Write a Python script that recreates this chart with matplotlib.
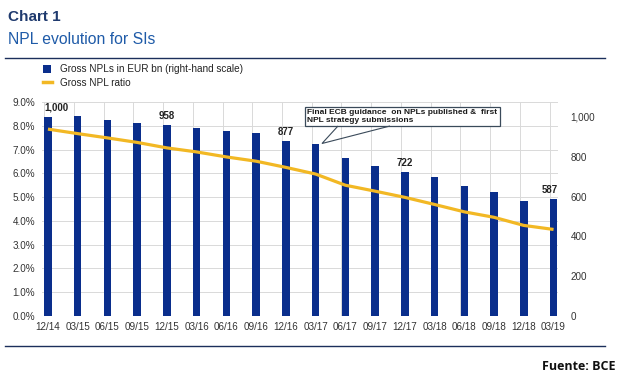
import matplotlib
matplotlib.use("Agg")
import matplotlib.pyplot as plt
from matplotlib.ticker import FuncFormatter, MultipleLocator
from matplotlib.lines import Line2D
from matplotlib.patches import Rectangle, Polygon

plt.rcParams['font.family'] = ['Liberation Sans', 'DejaVu Sans']

quarters = ["12/14", "03/15", "06/15", "09/15", "12/15", "03/16", "06/16", "09/16", "12/16",
            "03/17", "06/17", "09/17", "12/17", "03/18", "06/18", "09/18", "12/18", "03/19"]
gross_npls = [1000, 1005, 985, 968, 958, 945, 931, 918, 877,
              864, 792, 755, 722, 697, 653, 625, 578, 587]
npl_ratio = [7.86, 7.67, 7.49, 7.30, 7.07, 6.90, 6.69, 6.51, 6.25,
             5.97, 5.50, 5.25, 4.99, 4.69, 4.38, 4.15, 3.81, 3.64]
labelled = {0: "1,000", 4: "958", 8: "877", 12: "722", 17: "587"}
annotation_text = "Final ECB guidance  on NPLs published &  first\nNPL strategy submissions"

BAR = "#0A2E8C"
LINE = "#F2B824"
TXT = "#333333"

fig = plt.figure(figsize=(6.2, 3.86), dpi=100)
W, H = 620, 386

def fx(px):
    return px / W

def fy(py):
    return 1 - py / H

ax = fig.add_axes([fx(42), fy(316), fx(558) - fx(42), fy(102) - fy(316)])
ax2 = ax.twinx()

x = list(range(len(quarters)))

# right axis: bars
ax2.bar(x, gross_npls, width=0.25, color=BAR, zorder=2)
ax2.set_ylim(0, 1075)
ax2.yaxis.set_major_locator(MultipleLocator(200))
ax2.yaxis.set_major_formatter(FuncFormatter(lambda v, p: f"{int(v):,}"))

# left axis: ratio line
ax.set_ylim(0, 9)
ax.yaxis.set_major_locator(MultipleLocator(1))
ax.yaxis.set_major_formatter(FuncFormatter(lambda v, p: f"{v:.1f}%"))
ax.set_xlim(-0.2, 17.15)
ax.set_xticks(x)
ax.set_xticklabels(quarters)

ax.set_zorder(ax2.get_zorder() + 1)
ax.patch.set_visible(False)
ax2.patch.set_visible(True)
ax2.patch.set_facecolor("white")
ax.plot(x, npl_ratio, color=LINE, lw=2.3, zorder=3, solid_capstyle="butt")

# grid (drawn on ax2 behind bars)
for v in range(0, 10):
    ax2.axhline(v / 9 * 1075, color="#d9d9d9", lw=0.7, zorder=0)
for i in x:
    ax2.axvline(i - 0.13, color="#d9d9d9", lw=0.7, zorder=0)
ax2.axvline(17.15, color="#d9d9d9", lw=0.7, zorder=0)

for a in (ax, ax2):
    for s in a.spines.values():
        s.set_visible(False)
    a.tick_params(length=0, labelsize=7.1, colors=TXT)
ax.tick_params(axis="y", pad=5)
ax.tick_params(axis="x", pad=4)
ax2.tick_params(axis="y", pad=9)

# data labels
offsets = {0: 0.27, 17: -0.13}
for i, t in labelled.items():
    dx = offsets.get(i, 0.0)
    ax2.annotate(t, (i + dx, gross_npls[i]), xytext=(0, 3), textcoords="offset points",
                 ha="center", va="bottom", fontsize=7, fontweight="bold", color="#222222")

# annotation box with callout
box_l, box_r, box_t, box_b = 305, 500, 107, 126
fig.patches.append(Rectangle((fx(box_l), fy(box_b)), fx(box_r) - fx(box_l), fy(box_t) - fy(box_b),
                             transform=fig.transFigure, facecolor="white", edgecolor="#3a4a5a",
                             lw=0.9, zorder=5))
fig.text(fx(box_l + 2), fy((box_t + box_b) / 2), annotation_text, ha="left", va="center",
         fontsize=6.0, fontweight="bold", color="#1a1a1a", linespacing=1.1, zorder=6)
fig.patches.append(Polygon([(fx(338), fy(126)), (fx(322), fy(143.5)), (fx(390), fy(126))],
                           closed=False, fill=False, transform=fig.transFigure,
                           edgecolor="#3a4a5a", lw=0.8, zorder=5))

# title
fig.text(fx(8), fy(17), "Chart 1", fontsize=11, fontweight="bold", color="#1F3A6E",
         ha="left", va="center")
fig.text(fx(8), fy(40), "NPL evolution for SIs", fontsize=11.3, color="#1F5BA8",
         ha="left", va="center")

# rules
fig.add_artist(Line2D([fx(5), fx(605)], [fy(58), fy(58)], color="#1B2F5B", lw=1.0))
fig.add_artist(Line2D([fx(5), fx(605)], [fy(345.5), fy(345.5)], color="#1B2F5B", lw=1.0))

# legend
fig.patches.append(Rectangle((fx(43), fy(72.5)), fx(8), fy(0) - fy(8), transform=fig.transFigure,
                             facecolor=BAR, edgecolor="none"))
fig.add_artist(Line2D([fx(43), fx(52)], [fy(82), fy(82)], color=LINE, lw=2.5))
fig.text(fx(60), fy(69.5), "Gross NPLs in EUR bn (right-hand scale)", fontsize=7.2, color="#222222",
         ha="left", va="center")
fig.text(fx(60), fy(82.5), "Gross NPL ratio", fontsize=7.2, color="#222222", ha="left", va="center")

# source
fig.text(fx(616), fy(366.5), "Fuente: BCE", fontsize=9, fontweight="bold", color="#111111",
         ha="right", va="center", family=["Open Sans", "DejaVu Sans"])

fig.savefig("out.png", dpi=100)
